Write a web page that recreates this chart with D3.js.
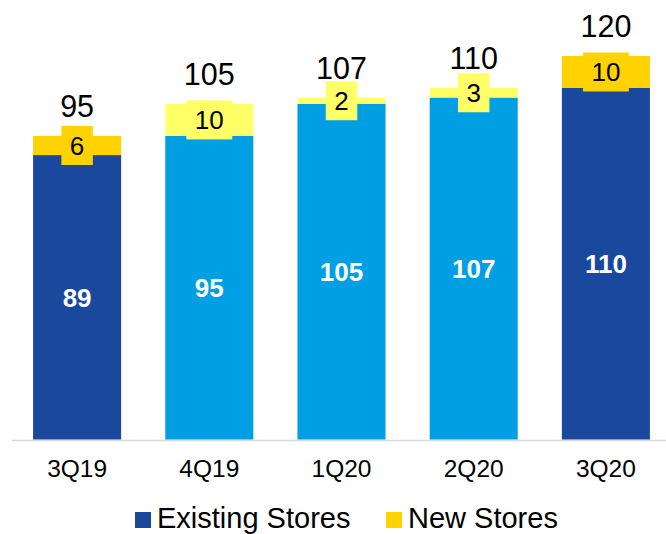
<!DOCTYPE html>
<html>
<head>
<meta charset="utf-8">
<script src="https://cdn.jsdelivr.net/npm/d3@7"></script>
<style>
  html, body { margin: 0; padding: 0; background: #fff; }
  svg { display: block; font-family: "Liberation Sans", Arial, sans-serif; }
</style>
</head>
<body>
<svg id="chart" width="666" height="534"></svg>
<script>
// Store counts per quarter
const quarters = ["3Q19", "4Q19", "1Q20", "2Q20", "3Q20"];
const existingStores = [89, 95, 105, 107, 110];
const newStores = [6, 10, 2, 3, 10];
const totals = [95, 105, 107, 110, 120];
const seriesNames = ["Existing Stores", "New Stores"];

// Year-over-year quarters use the dark palette, the rest the light one
const darkPalette = { existing: "#1A489C", added: "#FFD200" };
const lightPalette = { existing: "#009FE3", added: "#FFFF66" };
const paletteFor = q => q.startsWith("3Q") ? darkPalette : lightPalette;

const svg = d3.select("#chart");

const x = d3.scaleBand()
  .domain(quarters)
  .range([11, 672])
  .paddingInner(0.334)
  .paddingOuter(0.167);

const y = d3.scaleLinear()
  .domain([0, 120])
  .range([439.5, 56]);

const rows = quarters.map((q, i) => ({
  q, existing: existingStores[i], added: newStores[i], total: totals[i]
}));

// Baseline
svg.append("line")
  .attr("x1", 12).attr("x2", 666)
  .attr("y1", 440.5).attr("y2", 440.5)
  .attr("stroke", "#D9D9D9")
  .attr("stroke-width", 1.5);

const bars = svg.append("g").selectAll("g")
  .data(rows)
  .join("g");

// Existing stores segment
bars.append("rect")
  .attr("x", d => x(d.q))
  .attr("width", x.bandwidth())
  .attr("y", d => y(d.existing))
  .attr("height", d => y(0) - y(d.existing))
  .attr("fill", d => paletteFor(d.q).existing);

// New stores segment
bars.append("rect")
  .attr("x", d => x(d.q))
  .attr("width", x.bandwidth())
  .attr("y", d => y(d.existing + d.added))
  .attr("height", d => y(d.existing) - y(d.existing + d.added))
  .attr("fill", d => paletteFor(d.q).added);

// Existing value inside the bar
bars.append("text")
  .attr("x", d => x(d.q) + x.bandwidth() / 2)
  .attr("y", d => (y(0) + y(d.existing)) / 2)
  .attr("dy", "0.36em")
  .attr("text-anchor", "middle")
  .attr("font-size", 26)
  .attr("font-weight", "bold")
  .attr("fill", "#FFFFFF")
  .text(d => d.existing);

// New stores value in a tag centred on its segment
bars.each(function(d) {
  const g = d3.select(this);
  const cx = x(d.q) + x.bandwidth() / 2;
  const cy = (y(d.existing) + y(d.existing + d.added)) / 2;
  const tag = g.append("rect").attr("fill", paletteFor(d.q).added);
  const label = g.append("text")
    .attr("x", cx)
    .attr("y", cy)
    .attr("dy", "0.36em")
    .attr("text-anchor", "middle")
    .attr("font-size", 26)
    .attr("fill", "#000000")
    .text(d.added);
  const w = label.node().getComputedTextLength() + 17;
  const h = 39;
  tag.attr("x", cx - w / 2).attr("y", cy - h / 2)
    .attr("width", w).attr("height", h);
});

// Total above each bar
bars.append("text")
  .attr("x", d => x(d.q) + x.bandwidth() / 2)
  .attr("y", d => y(d.total) - 19)
  .attr("text-anchor", "middle")
  .attr("font-size", 30.5)
  .attr("fill", "#000000")
  .text(d => d.total);

// Category axis
const xAxis = svg.append("g")
  .attr("transform", "translate(0,440)")
  .call(d3.axisBottom(x).tickSize(0).tickPadding(0));
xAxis.select(".domain").remove();
xAxis.selectAll("text")
  .attr("y", 37)
  .attr("dy", 0)
  .attr("font-size", 24.5)
  .attr("font-family", "'Liberation Sans', Arial, sans-serif")
  .attr("fill", "#000000");

// Legend
const legendItems = [
  { name: seriesNames[0], color: darkPalette.existing, x: 135 },
  { name: seriesNames[1], color: darkPalette.added, x: 386 }
];
const legend = svg.append("g").selectAll("g")
  .data(legendItems)
  .join("g")
  .attr("transform", d => `translate(${d.x},0)`);
legend.append("rect")
  .attr("x", 0).attr("y", 512)
  .attr("width", 16).attr("height", 16)
  .attr("fill", d => d.color);
legend.append("text")
  .attr("x", 22).attr("y", 528)
  .attr("font-size", 29)
  .attr("fill", "#000000")
  .text(d => d.name);
</script>
</body>
</html>
